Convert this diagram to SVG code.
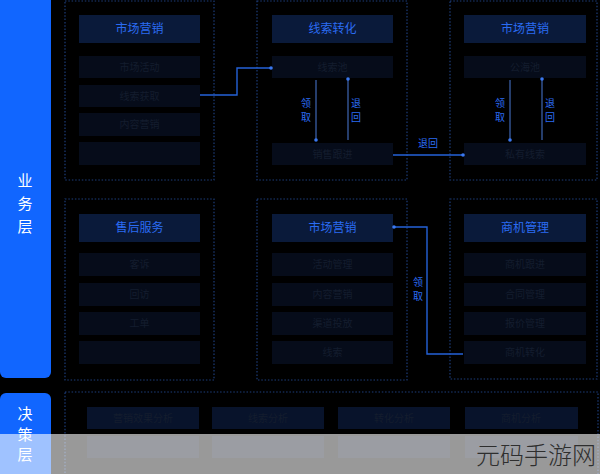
<svg xmlns="http://www.w3.org/2000/svg" width="600" height="474" viewBox="0 0 600 474">
<style>
text{font-family:"Noto Sans CJK SC","Noto Sans",sans-serif;}
.panel{fill:none;stroke:#1d3d7a;stroke-width:1.2;stroke-dasharray:1.5 1.8;}
.hdr{fill:#0a1a3a;}
.hdrt{fill:#2b6cf2;font-size:12px;text-anchor:middle;}
.row{fill:#060c1a;}
.rowt{fill:#141d2e;font-size:10px;text-anchor:middle;}
.side{fill:#1166ff;}
.sidet{fill:#ffffff;font-size:15px;text-anchor:middle;}
.conn{fill:none;stroke:#2462d8;stroke-width:1.4;}
.vline{fill:none;stroke:#35589a;stroke-width:1.4;}
.lbl{fill:#2b6cf2;font-size:10px;text-anchor:middle;}
.dot{fill:#3a78f0;}
</style>
<rect width="600" height="474" fill="#000"/>

<g id="side-business">
<rect class="side" x="0" y="-6" width="51" height="384" rx="6"/>
<text class="sidet" x="25" y="186">业</text>
<text class="sidet" x="25" y="209">务</text>
<text class="sidet" x="25" y="232">层</text>
</g>
<g id="side-decision">
<rect class="side" x="0" y="393" width="51" height="90" rx="6"/>
<text class="sidet" x="25" y="419">决</text>
<text class="sidet" x="25" y="440">策</text>
<text class="sidet" x="25" y="460">层</text>
</g>

<g id="panel-marketing-1">
<rect class="panel" x="65" y="1" width="149" height="179"/>
<rect class="hdr" x="79" y="15" width="121" height="28"/>
<text class="hdrt" x="139.5" y="33">市场营销</text>
<rect class="row" x="79" y="56" width="121" height="22"/>
<text class="rowt" x="139.5" y="71">市场活动</text>
<rect class="row" x="79" y="85" width="121" height="22"/>
<text class="rowt" x="139.5" y="100">线索获取</text>
<rect class="row" x="79" y="113" width="121" height="23"/>
<text class="rowt" x="139.5" y="128">内容营销</text>
<rect class="row" x="79" y="142" width="121" height="23"/>
</g>

<g id="panel-lead">
<rect class="panel" x="257" y="1" width="150" height="179"/>
<rect class="hdr" x="272" y="15" width="121" height="28"/>
<text class="hdrt" x="332.5" y="33">线索转化</text>
<rect class="row" x="272" y="56" width="121" height="22"/>
<text class="rowt" x="332.5" y="71">线索池</text>
<rect class="row" x="272" y="143" width="121" height="22"/>
<text class="rowt" x="332.5" y="158">销售跟进</text>
</g>

<g id="panel-marketing-2">
<rect class="panel" x="450" y="1" width="147" height="179"/>
<rect class="hdr" x="464" y="15" width="122" height="28"/>
<text class="hdrt" x="525" y="33">市场营销</text>
<rect class="row" x="464" y="56" width="122" height="22"/>
<text class="rowt" x="525" y="71">公海池</text>
<rect class="row" x="464" y="143" width="122" height="22"/>
<text class="rowt" x="525" y="158">私有线索</text>
</g>

<g id="panel-service">
<rect class="panel" x="65" y="199" width="149" height="181"/>
<rect class="hdr" x="79" y="214" width="121" height="28"/>
<text class="hdrt" x="139.5" y="232">售后服务</text>
<rect class="row" x="79" y="253" width="121" height="23"/>
<text class="rowt" x="139.5" y="268">客诉</text>
<rect class="row" x="79" y="283" width="121" height="23"/>
<text class="rowt" x="139.5" y="298">回访</text>
<rect class="row" x="79" y="312" width="121" height="23"/>
<text class="rowt" x="139.5" y="327">工单</text>
<rect class="row" x="79" y="341" width="121" height="23"/>
</g>

<g id="panel-marketing-3">
<rect class="panel" x="257" y="199" width="150" height="181"/>
<rect class="hdr" x="272" y="214" width="121" height="28"/>
<text class="hdrt" x="332.5" y="232">市场营销</text>
<rect class="row" x="272" y="253" width="121" height="23"/>
<text class="rowt" x="332.5" y="268">活动管理</text>
<rect class="row" x="272" y="283" width="121" height="23"/>
<text class="rowt" x="332.5" y="298">内容营销</text>
<rect class="row" x="272" y="312" width="121" height="23"/>
<text class="rowt" x="332.5" y="327">渠道投放</text>
<rect class="row" x="272" y="341" width="121" height="23"/>
<text class="rowt" x="332.5" y="356">线索</text>
</g>

<g id="panel-opportunity">
<rect class="panel" x="450" y="199" width="147" height="180"/>
<rect class="hdr" x="464" y="214" width="122" height="28"/>
<text class="hdrt" x="525" y="232">商机管理</text>
<rect class="row" x="464" y="253" width="122" height="23"/>
<text class="rowt" x="525" y="268">商机跟进</text>
<rect class="row" x="464" y="283" width="122" height="23"/>
<text class="rowt" x="525" y="298">合同管理</text>
<rect class="row" x="464" y="312" width="122" height="23"/>
<text class="rowt" x="525" y="327">报价管理</text>
<rect class="row" x="464" y="341" width="122" height="23"/>
<text class="rowt" x="525" y="356">商机转化</text>
</g>

<g id="panel-decision">
<rect class="panel" x="65" y="392" width="533" height="90"/>
<rect class="row" x="87" y="407" width="112" height="22" style="fill:#08132b"/>
<text class="rowt" x="143" y="422">营销效果分析</text>
<rect class="row" x="212" y="407" width="112" height="22" style="fill:#08132b"/>
<text class="rowt" x="268" y="422">线索分析</text>
<rect class="row" x="338" y="407" width="112" height="22" style="fill:#08132b"/>
<text class="rowt" x="394" y="422">转化分析</text>
<rect class="row" x="465" y="407" width="113" height="22" style="fill:#08132b"/>
<text class="rowt" x="521" y="422">商机分析</text>
<rect class="row" x="87" y="436" width="112" height="22"/>
<rect class="row" x="212" y="436" width="112" height="22"/>
<rect class="row" x="338" y="436" width="112" height="22"/>
<rect class="row" x="465" y="436" width="113" height="22"/>
</g>

<g id="connectors">
<polyline class="conn" points="200,95 237,95 237,68 270,68"/>
<circle class="dot" cx="271" cy="68" r="1.8"/>
<line class="vline" x1="316" y1="80" x2="316" y2="140"/>
<circle class="dot" cx="316" cy="140" r="1.8"/>
<text class="lbl" x="306" y="107">领</text>
<text class="lbl" x="306" y="121">取</text>
<line class="vline" x1="348" y1="79" x2="348" y2="140"/>
<circle class="dot" cx="348" cy="79" r="1.8"/>
<text class="lbl" x="356" y="107">退</text>
<text class="lbl" x="356" y="121">回</text>
<line class="conn" x1="393" y1="155" x2="463" y2="155"/>
<circle class="dot" cx="463" cy="155" r="1.8"/>
<text class="lbl" x="428" y="147">退回</text>
<line class="vline" x1="510" y1="80" x2="510" y2="140"/>
<circle class="dot" cx="510" cy="140" r="1.8"/>
<text class="lbl" x="500" y="107">领</text>
<text class="lbl" x="500" y="121">取</text>
<line class="vline" x1="542" y1="79" x2="542" y2="140"/>
<circle class="dot" cx="542" cy="79" r="1.8"/>
<text class="lbl" x="550" y="107">退</text>
<text class="lbl" x="550" y="121">回</text>
<polyline class="conn" points="394,227 427,227 427,354 463,354"/>
<circle class="dot" cx="394" cy="227" r="1.8"/>
<text class="lbl" x="418" y="286">领</text>
<text class="lbl" x="418" y="300">取</text>
</g>

<rect x="0" y="434" width="600" height="40" fill="#ffffff" fill-opacity="0.6"/>
<text x="536" y="464" style="font-size:24px;fill:#2e2e2e;text-anchor:middle;font-weight:300;">元码手游网</text>
</svg>
